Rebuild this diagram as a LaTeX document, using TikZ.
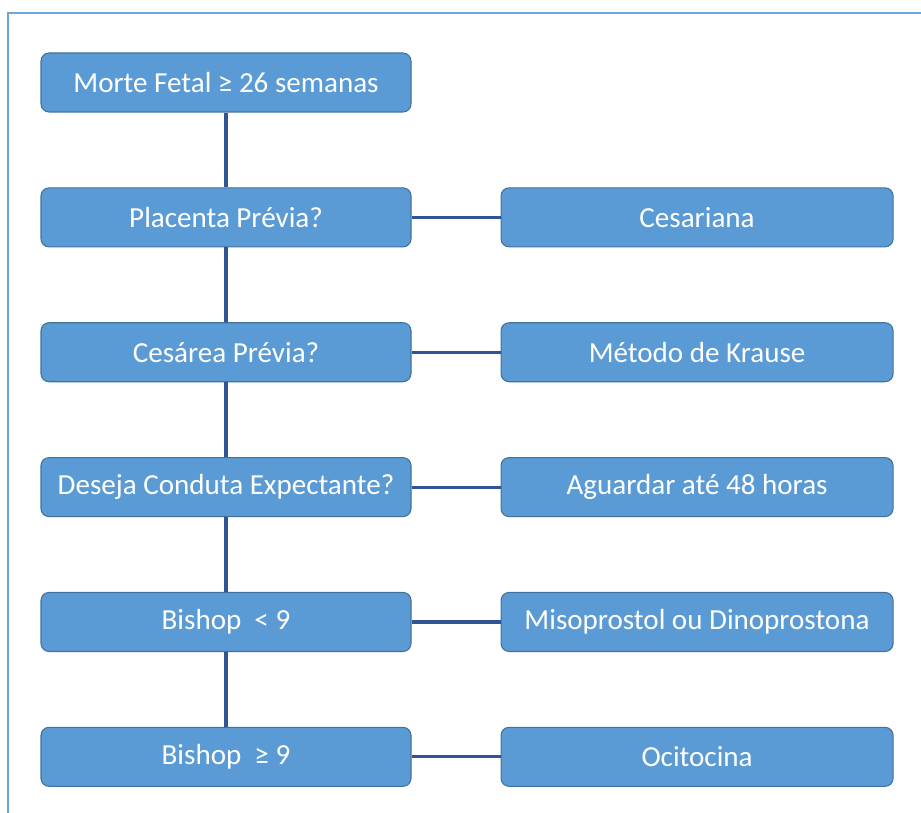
\documentclass[tikz,border=0pt]{standalone}
\usepackage{fontspec}
\setmainfont{Carlito}
\usetikzlibrary{positioning}
\definecolor{boxfill}{HTML}{5B9BD5}
\definecolor{boxline}{HTML}{41719C}
\definecolor{linkline}{HTML}{2F5597}
\definecolor{framecol}{HTML}{6FA6DC}
\begin{document}
\begin{tikzpicture}[
  x=0.75pt, y=-0.75pt,
  node distance=56.1pt and 66.75pt,
  mybox/.style={draw=boxline,fill=boxfill,rounded corners=6pt,line width=0.8pt,
    minimum width=277.5pt,minimum height=44.25pt,text=white,
    font=\fontsize{21.8}{26}\selectfont,inner sep=0pt},
  mybigbox/.style={mybox,minimum width=294pt},
  mylink/.style={draw=linkline,line width=2.4pt}
]
\useasboundingbox (0,0) rectangle (921,813);
\draw[framecol,line width=1.6pt] (8,813) -- (8,13) -- (921,13);
\node[mybox] (morte) at (226,82.5) {Morte Fetal ≥ 26 semanas};
\node[mybox, below=of morte] (plac) {Placenta Prévia?};
\node[mybox, below=of plac] (cesp) {Cesárea Prévia?};
\node[mybox, below=of cesp] (cond) {Deseja Conduta Expectante?};
\node[mybox, below=of cond] (bmen) {Bishop\ \ < 9};
\node[mybox, below=of bmen] (bmai) {Bishop\ \ ≥ 9};
\node[mybigbox, right=of plac] (cesa) {Cesariana};
\node[mybigbox, right=of cesp] (krau) {Método de Krause};
\node[mybigbox, right=of cond] (agua) {Aguardar até 48 horas};
\node[mybigbox, right=of bmen] (miso) {Misoprostol ou Dinoprostona};
\node[mybigbox, right=of bmai] (ocit) {Ocitocina};
\path[mylink] (morte) -- (plac) (plac) -- (cesp) (cesp) -- (cond)
  (cond) -- (bmen) (bmen) -- (bmai);
\path[mylink] (plac) -- (cesa) (cesp) -- (krau) (cond) -- (agua)
  (bmen) -- (miso) (bmai) -- (ocit);
\end{tikzpicture}
\end{document}
